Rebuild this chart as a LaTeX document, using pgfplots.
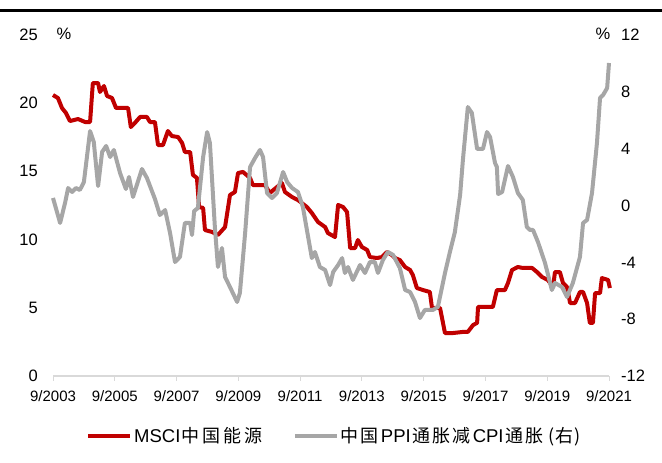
\documentclass[border=0pt]{standalone}
\usepackage{fontspec}
\setmainfont{Liberation Sans}
\newfontfamily\cjk{Noto Sans CJK SC}
\usepackage{pgfplots}
\pgfplotsset{compat=1.18}
\definecolor{msred}{RGB}{192,0,0}
\definecolor{ppigray}{RGB}{166,166,166}
\definecolor{axgray}{RGB}{217,217,217}
\newcommand{\cj}[1]{{\cjk\fontsize{18}{20}\selectfont #1}}
\begin{document}
\begin{tikzpicture}
\path[use as bounding box] (0,0) rectangle (662pt,463pt);
\draw[black, line width=3pt] (0pt,452pt) -- (662pt,452pt);
\begin{axis}[
  at={(53pt,87pt)}, anchor=south west,
  scale only axis, width=556pt, height=341pt,
  xmin=2003.67, xmax=2021.67,
  ymin=0, ymax=25, ytick={0,5,...,25},
  axis x line*=bottom, axis y line*=left,
  x axis line style={draw=axgray, line width=1.5pt, -},
  y axis line style={draw=none},
  xtick={2003.67,2005.67,2007.67,2009.67,2011.67,2013.67,2015.67,2017.67,2019.67,2021.67},
  xticklabels={9/2003,9/2005,9/2007,9/2009,9/2011,9/2013,9/2015,9/2017,9/2019,9/2021},
  xtick style={draw=axgray, line width=1pt},
  ytick style={draw=none},
  tick align=outside, major tick length=5pt,
  /pgf/number format/assume math mode=true,
  xticklabel style={font=\fontsize{15}{16}\selectfont, yshift=-6pt},
  yticklabel style={font=\fontsize{16.5}{18}\selectfont, anchor=east, inner sep=0pt, xshift=-10pt},
  legend style={at={(0.054,-0.176)}, anchor=west, draw=none, fill=none,
    legend columns=2, font=\fontsize{18.5}{20}\selectfont,
    /tikz/every even column/.append style={column sep=28pt}},
  legend image code/.code={\draw[#1, line width=4pt] (0pt,0pt) -- (42pt,0pt);},
  clip=false,
]
\addplot[msred, line width=4pt, line join=round] coordinates {
(2003.67,20.60) (2003.83,20.38) (2003.96,19.65) (2004.09,19.28) (2004.22,18.69)
(2004.48,18.84) (2004.71,18.62) (2004.87,18.62) (2004.96,21.48) (2005.13,21.48)
(2005.19,20.82) (2005.32,21.26) (2005.42,20.53) (2005.58,20.38) (2005.71,19.65)
(2006.10,19.65) (2006.19,18.25) (2006.32,18.55) (2006.49,18.99) (2006.71,18.99)
(2006.81,18.62) (2006.97,18.62) (2007.07,16.93) (2007.23,16.93) (2007.39,17.96)
(2007.52,17.59) (2007.72,17.52) (2007.85,17.08) (2007.94,16.42) (2008.11,16.42)
(2008.20,14.74) (2008.33,14.52) (2008.40,12.39) (2008.53,12.32) (2008.59,10.70)
(2008.82,10.56) (2009.01,10.34) (2009.24,10.92) (2009.40,13.27) (2009.56,13.49)
(2009.66,14.88) (2009.82,14.96) (2010.05,14.52) (2010.14,14.00) (2010.53,14.00)
(2010.69,13.42) (2011.08,14.15) (2011.18,13.49) (2011.41,13.12) (2011.60,12.90)
(2011.89,12.39) (2012.05,11.95) (2012.25,11.29) (2012.48,10.92) (2012.57,10.48)
(2012.80,10.19) (2012.90,12.54) (2013.06,12.39) (2013.19,12.02) (2013.29,9.38)
(2013.45,9.38) (2013.54,9.97) (2013.67,9.46) (2013.84,9.24) (2013.93,8.72)
(2014.16,8.65) (2014.32,8.72) (2014.48,9.09) (2014.64,8.87) (2014.74,8.65)
(2014.90,8.50) (2015.07,7.99) (2015.23,7.77) (2015.32,7.40) (2015.45,6.45)
(2015.65,6.30) (2015.87,6.16) (2015.94,4.99) (2016.20,4.99) (2016.36,3.15)
(2016.62,3.15) (2016.94,3.23) (2017.10,3.23) (2017.27,3.74) (2017.40,3.89)
(2017.43,5.06) (2017.91,5.06) (2018.04,6.30) (2018.30,6.30) (2018.40,6.82)
(2018.53,7.77) (2018.72,7.99) (2018.88,7.92) (2019.18,7.92) (2019.34,7.62)
(2019.50,7.26) (2019.69,7.04) (2019.86,6.52) (2019.92,7.62) (2020.08,7.62)
(2020.18,6.82) (2020.31,6.52) (2020.41,5.35) (2020.57,5.35) (2020.73,6.16)
(2020.83,6.16) (2020.96,5.35) (2021.05,3.89) (2021.15,3.89) (2021.22,6.08)
(2021.38,6.08) (2021.44,7.18) (2021.64,7.04) (2021.70,6.45)
};
\addlegendentry{MSCI\kern1.5pt\cj{中\kern3pt 国\kern3pt 能\kern3pt 源}}
\addlegendimage{ppigray}
\addlegendentry{\cj{中\kern2pt 国}\kern2pt PPI\kern2pt\cj{通\kern2pt 胀\kern2pt 减}\kern2pt CPI\kern2pt\cj{通\kern2pt 胀\hspace{5pt}(\kern1pt 右\kern1pt)}}
\end{axis}
\begin{axis}[
  at={(53pt,87pt)}, anchor=south west,
  scale only axis, width=556pt, height=341pt,
  xmin=2003.67, xmax=2021.67,
  ymin=-12, ymax=12, ytick={-12,-8,...,12},
  axis x line=none, axis y line*=right,
  y axis line style={draw=none},
  ytick style={draw=none},
  /pgf/number format/assume math mode=true,
  yticklabel style={font=\fontsize{16.5}{18}\selectfont, anchor=west, inner sep=0pt, xshift=12pt},
  clip=false,
]
\addplot[ppigray, line width=4pt, line join=round] coordinates {
(2003.67,0.53) (2003.90,-1.23) (2004.06,0.18) (2004.16,1.23) (2004.29,0.95)
(2004.41,1.23) (2004.54,1.09) (2004.67,1.65) (2004.87,5.24) (2004.99,4.47)
(2005.13,1.37) (2005.26,3.77) (2005.39,4.19) (2005.52,3.41) (2005.64,3.91)
(2005.84,2.29) (2006.03,1.16) (2006.13,2.01) (2006.26,0.60) (2006.55,2.57)
(2006.71,1.94) (2006.97,0.46) (2007.13,-0.67) (2007.30,-0.32) (2007.46,-1.94)
(2007.62,-3.98) (2007.78,-3.62) (2007.94,-1.23) (2008.11,-1.23) (2008.17,-2.08)
(2008.24,-0.39) (2008.36,-0.18) (2008.53,3.41) (2008.66,5.17) (2008.75,4.40)
(2008.91,-1.51) (2009.01,-4.33) (2009.14,-2.99) (2009.24,-5.03) (2009.40,-5.74)
(2009.63,-6.79) (2009.72,-6.16) (2009.89,-1.94) (2010.05,2.71) (2010.21,3.34)
(2010.37,3.91) (2010.47,3.41) (2010.60,0.88) (2010.76,0.53) (2010.92,0.88)
(2011.12,2.36) (2011.25,1.65) (2011.41,1.23) (2011.60,0.95) (2011.76,-0.11)
(2011.93,-2.22) (2012.05,-3.70) (2012.15,-3.27) (2012.31,-4.33) (2012.48,-4.54)
(2012.64,-5.60) (2012.74,-4.68) (2012.90,-4.19) (2013.03,-3.70) (2013.12,-4.75)
(2013.22,-4.33) (2013.38,-5.24) (2013.61,-4.19) (2013.77,-4.75) (2013.93,-3.98)
(2014.09,-3.98) (2014.19,-4.75) (2014.35,-3.84) (2014.51,-3.27) (2014.68,-3.48)
(2014.90,-4.40) (2015.07,-5.95) (2015.23,-6.09) (2015.39,-6.79) (2015.55,-7.92)
(2015.71,-7.35) (2015.97,-7.35) (2016.13,-7.14) (2016.36,-4.75) (2016.52,-3.27)
(2016.68,-1.87) (2016.85,0.74) (2016.94,3.20) (2017.10,6.93) (2017.23,6.51)
(2017.40,3.98) (2017.59,3.98) (2017.72,5.17) (2017.82,4.82) (2017.98,2.99)
(2018.04,2.71) (2018.08,0.81) (2018.21,0.95) (2018.40,2.78) (2018.56,2.01)
(2018.72,0.88) (2018.88,0.39) (2019.01,-1.51) (2019.11,-1.72) (2019.21,-1.72)
(2019.37,-2.57) (2019.60,-4.05) (2019.82,-5.95) (2019.92,-5.45) (2020.15,-5.74)
(2020.31,-6.44) (2020.50,-5.45) (2020.73,-3.62) (2020.83,-1.23) (2020.96,-1.02)
(2021.12,0.88) (2021.28,4.40) (2021.38,7.57) (2021.48,7.78) (2021.61,8.27)
(2021.67,10.03)
};
\end{axis}
\node[font=\fontsize{16.5}{18}\selectfont, inner sep=0pt] at (64pt,429pt) {\%};
\node[font=\fontsize{16.5}{18}\selectfont, inner sep=0pt] at (603pt,429pt) {\%};
\end{tikzpicture}
\end{document}
